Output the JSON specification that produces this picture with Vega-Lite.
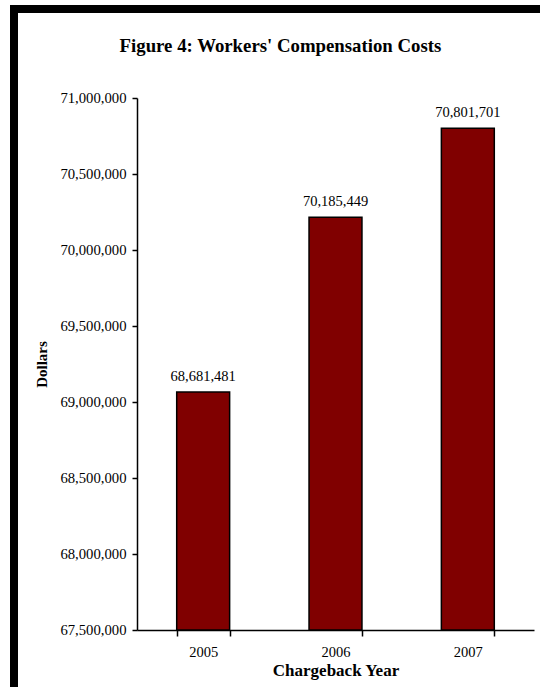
{
  "$schema": "https://vega.github.io/schema/vega-lite/v6.json",
  "background": "white",
  "padding": {"left": 10, "top": 5, "right": 0, "bottom": 0},
  "autosize": {"type": "pad"},
  "spacing": 0,
  "config": {
    "font": "Liberation Serif",
    "view": {"stroke": null},
    "concat": {"spacing": 0},
    "axis": {
      "domainColor": "black", "tickColor": "black", "labelColor": "black", "titleColor": "black",
      "domainWidth": 1.5, "tickWidth": 1.5, "grid": false,
      "labelFont": "Liberation Serif", "titleFont": "Liberation Serif"
    }
  },
  "vconcat": [
    {
      "width": 530, "height": 8,
      "data": {"values": [{}]},
      "mark": {"type": "point", "size": 0, "opacity": 0},
      "view": {"fill": "black", "stroke": null}
    },
    {
      "spacing": 0,
      "hconcat": [
        {
          "width": 8, "height": 674,
          "data": {"values": [{}]},
          "mark": {"type": "point", "size": 0, "opacity": 0},
          "view": {"fill": "black", "stroke": null}
        },
        {
          "width": 16, "height": 1,
          "data": {"values": [{}]},
          "mark": {"type": "point", "size": 0, "opacity": 0}
        },
        {
          "spacing": 0,
          "vconcat": [
            {
              "width": 1, "height": 24,
              "data": {"values": [{}]},
              "mark": {"type": "point", "size": 0, "opacity": 0}
            },
            {
              "width": 397, "height": 532,
              "title": {
                "text": "Figure 4: Workers' Compensation Costs",
                "font": "Liberation Serif", "fontSize": 18.8, "fontWeight": "bold",
                "color": "black", "anchor": "middle", "frame": "bounds", "offset": 34, "dx": -4
              },
              "data": {"values": [
                {"year": "2005", "dollars": 69065000, "label": "68,681,481"},
                {"year": "2006", "dollars": 70215000, "label": "70,185,449"},
                {"year": "2007", "dollars": 70801701, "label": "70,801,701"}
              ]},
              "encoding": {
                "x": {
                  "field": "year", "type": "nominal",
                  "scale": {"paddingInner": 0.6, "paddingOuter": 0.3},
                  "axis": {
                    "title": "Chargeback Year", "labelAngle": 0, "tickBand": "extent",
                    "tickSize": 6, "labelPadding": 9, "labelFontSize": 14.5,
                    "titleFontSize": 17, "titleFontWeight": "bold", "titlePadding": 4
                  }
                }
              },
              "layer": [
                {
                  "mark": {"type": "bar", "color": "#800000", "stroke": "black", "strokeWidth": 1.5},
                  "encoding": {
                    "y": {
                      "field": "dollars", "type": "quantitative",
                      "scale": {"domain": [67500000, 71000000], "zero": false, "nice": false},
                      "axis": {
                        "title": "Dollars", "titleFontSize": 15, "titleFontWeight": "bold",
                        "titlePadding": 10, "labelFontSize": 14.7, "tickSize": 5, "labelPadding": 6,
                        "format": ",d",
                        "values": [67500000, 68000000, 68500000, 69000000, 69500000, 70000000, 70500000, 71000000]
                      }
                    },
                    "y2": {"datum": 67500000}
                  }
                },
                {
                  "mark": {"type": "text", "dy": -11, "baseline": "alphabetic", "fontSize": 14.5, "color": "black", "font": "Liberation Serif"},
                  "encoding": {
                    "y": {"field": "dollars", "type": "quantitative"},
                    "text": {"field": "label"}
                  }
                }
              ]
            }
          ]
        },
        {
          "width": 6, "height": 1,
          "data": {"values": [{}]},
          "mark": {"type": "point", "size": 0, "opacity": 0}
        },
        {
          "width": 1, "height": 674,
          "data": {"values": [{}]},
          "mark": {"type": "point", "size": 0, "opacity": 0},
          "view": {"fill": "black", "stroke": null}
        }
      ]
    }
  ]
}
